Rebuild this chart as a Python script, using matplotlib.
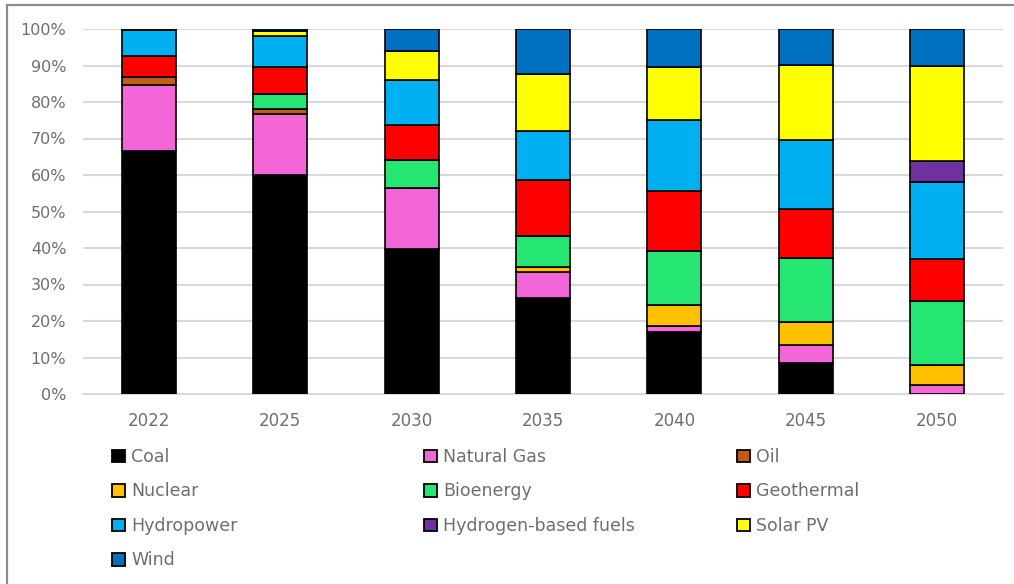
import matplotlib
matplotlib.use("Agg")
import matplotlib.pyplot as plt
import numpy as np
from matplotlib.patches import Rectangle, Patch

years = ["2022", "2025", "2030", "2035", "2040", "2045", "2050"]

coal = [66.7, 60.0, 39.6, 26.3, 17.1, 8.4, 0.0]
natural_gas = [17.9, 16.8, 16.8, 7.2, 1.5, 5.1, 2.4]
oil = [2.3, 1.2, 0.0, 0.0, 0.0, 0.0, 0.0]
nuclear = [0.0, 0.0, 0.0, 1.4, 5.7, 6.2, 5.6]
bioenergy = [0.0, 4.2, 7.7, 8.5, 14.8, 17.5, 17.4]
geothermal = [5.7, 7.4, 9.5, 15.3, 16.6, 13.4, 11.5]
hydropower = [7.1, 8.5, 12.3, 13.3, 19.3, 18.9, 21.2]
hydrogen = [0.0, 0.0, 0.0, 0.0, 0.0, 0.0, 5.7]
solar_pv = [0.0, 1.3, 8.2, 15.7, 14.6, 20.7, 26.1]
wind = [0.3, 0.6, 5.9, 12.3, 10.4, 9.8, 10.1]

series_names = ["Coal", "Natural Gas", "Oil", "Nuclear", "Bioenergy", "Geothermal",
                "Hydropower", "Hydrogen-based fuels", "Solar PV", "Wind"]
series_values = [coal, natural_gas, oil, nuclear, bioenergy, geothermal,
                 hydropower, hydrogen, solar_pv, wind]
colors = ["#000000", "#F366D8", "#C55A11", "#FFC000", "#25E573", "#FF0000",
          "#00B0F0", "#7030A0", "#FFFF00", "#0070C0"]

TEXT = "#6E6E6E"
plt.rcParams['font.family'] = ['DejaVu Sans']

W, H = 1014, 584
fig = plt.figure(figsize=(W / 100, H / 100), dpi=100)
ax = fig.add_axes([83 / W, (H - 394) / H, (1003 - 83) / W, 365 / H])

x = np.arange(len(years))
bottom = np.zeros(len(years))
handles = {}
for name, vals, col in zip(series_names, series_values, colors):
    v = np.array(vals, dtype=float)
    lw = [1.2 if val > 0 else 0 for val in v]
    ax.bar(x, v, width=0.41, bottom=bottom, color=col, edgecolor="#000000",
           linewidth=lw, zorder=3, label=name)
    handles[name] = Patch(facecolor=col, edgecolor="#000000", linewidth=1.3)
    bottom += v

ax.set_xlim(-0.5, len(years) - 0.5)
ax.set_ylim(0, 100)
ax.set_yticks(np.arange(0, 101, 10))
ax.set_yticklabels([f"{t}%" for t in range(0, 101, 10)])
ax.set_xticks(x)
ax.set_xticklabels(years)
ax.yaxis.grid(True, color="#D9D9D9", linewidth=1.5, zorder=0)
ax.set_axisbelow(True)
for s in ["top", "right", "left"]:
    ax.spines[s].set_visible(False)
ax.spines["bottom"].set_color("#D9D9D9")
ax.spines["bottom"].set_linewidth(1.5)
ax.tick_params(axis="y", length=0, pad=12, labelsize=11.5, labelcolor=TEXT)
ax.tick_params(axis="x", length=0, pad=13, labelsize=12, labelcolor=TEXT)

# Legend in three columns, row-major order
cols = [["Coal", "Nuclear", "Hydropower", "Wind"],
        ["Natural Gas", "Bioenergy", "Hydrogen-based fuels"],
        ["Oil", "Geothermal", "Solar PV"]]
col_x = [112, 424, 737]
for cx, names in zip(col_x, cols):
    fig.legend([handles[n] for n in names], names, loc="upper left",
               bbox_to_anchor=(cx / W, 1 - 448 / H), frameon=False,
               borderpad=0, borderaxespad=0, labelspacing=0.95,
               handlelength=0.75, handleheight=0.75, handletextpad=0.35,
               fontsize=12.5, labelcolor=TEXT)

fig.add_artist(Rectangle((7 / W, -0.05), 1.2, 1 - 5 / H + 0.05, transform=fig.transFigure,
                         fill=False, edgecolor="#8C8C8C", linewidth=1.6))

fig.savefig("out.png", dpi=100)
